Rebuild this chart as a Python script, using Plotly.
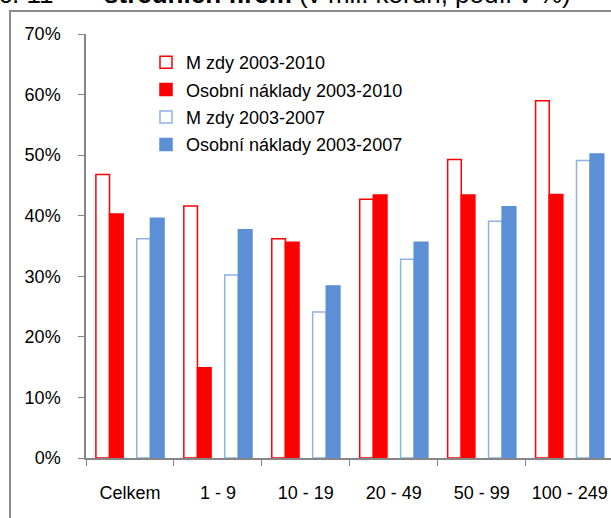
"""
Growth of wages vs. personnel costs by firm size (grouped bars, two periods).
"""
import plotly.graph_objects as go

categories = ["Celkem", "1 - 9", "10 - 19", "20 - 49", "50 - 99", "100 - 249"]

mzdy_2010 = [46.8, 41.6, 36.2, 42.7, 49.3, 59.0]
naklady_2010 = [40.3, 14.9, 35.6, 43.4, 43.4, 43.5]
mzdy_2007 = [36.2, 30.2, 24.1, 32.8, 39.1, 49.1]
naklady_2007 = [39.6, 37.7, 28.4, 35.6, 41.5, 50.2]

RED = "#ff0000"
BLUE = "#5b8fd6"
BLUE_LIGHT = "#8fb2e3"
FONT = "Liberation Sans, Arial, sans-serif"

W, H = 611, 518
L, R, T, B = 86, 0, 34, 60
PW, PH = W - L - R, H - T - B


def px_x(x):
    return (x - L) / PW


def px_y(y):
    return (H - B - y) / PH


# five slots per category, middle one left empty (gap between periods)
bw = 0.155
fig = go.Figure()
series = [
    ("M zdy 2003-2010", mzdy_2010, "white", RED, -2.5),
    ("Osobní náklady 2003-2010", naklady_2010, RED, RED, -1.5),
    ("M zdy 2003-2007", mzdy_2007, "white", BLUE_LIGHT, 0.5),
    ("Osobní náklady 2003-2007", naklady_2007, BLUE, BLUE, 1.5),
]
for i, (name, vals, fill, edge, slot) in enumerate(series):
    fig.add_trace(go.Bar(
        x=categories,
        y=vals,
        name=name,
        width=bw,
        offset=slot * bw,
        marker={"color": fill, "line": {"color": edge, "width": 1.5}},
        legendgroup=f"g{i}",
    ))

# title, cut off by the top edge
fig.add_annotation(
    x=px_x(-3), y=px_y(-6), xref="paper", yref="paper",
    xanchor="left", yanchor="middle", showarrow=False,
    text="č. 11" + "&nbsp;" * 7 + "<b>středních firem</b> (v mil. korun, podíl v %)",
    font={"size": 26, "color": "#000000", "family": FONT},
)

# outer frame of the original chart object (right and bottom edges fall outside)
fig.add_shape(type="rect", xref="paper", yref="paper", layer="above",
              x0=px_x(10), x1=px_x(W + 20), y0=px_y(11), y1=px_y(H + 20),
              line={"color": "#8c8c8c", "width": 2}, fillcolor="rgba(0,0,0,0)")

fig.update_layout(
    width=W,
    height=H,
    margin={"l": L, "r": R, "t": T, "b": B},
    paper_bgcolor="white",
    plot_bgcolor="white",
    font={"family": FONT, "size": 18, "color": "#000000"},
    barmode="overlay",
    showlegend=True,
    legend={
        "x": px_x(146),
        "y": px_y(44),
        "xanchor": "left",
        "yanchor": "top",
        "bgcolor": "rgba(0,0,0,0)",
        "traceorder": "grouped",
        "tracegroupgap": 1,
        "font": {"size": 18, "family": FONT},
    },
    xaxis={
        "type": "category",
        "range": [-0.5, 5.47],
        "showline": True,
        "linecolor": "#868686",
        "linewidth": 1.5,
        "ticks": "outside",
        "tickson": "boundaries",
        "ticklen": 6,
        "tickcolor": "#868686",
        "ticklabelstandoff": 18,
        "showgrid": False,
        "zeroline": False,
    },
    yaxis={
        "range": [0, 70],
        "tickmode": "linear",
        "tick0": 0,
        "dtick": 10,
        "ticksuffix": "%",
        "showline": True,
        "linecolor": "#868686",
        "linewidth": 1.5,
        "ticks": "outside",
        "ticklen": 6,
        "tickcolor": "#868686",
        "ticklabelstandoff": 14,
        "showgrid": False,
        "zeroline": False,
    },
)

fig.write_html(
    "out.html",
    config={"displayModeBar": False},
    post_script="document.body.style.margin='0';",
)
